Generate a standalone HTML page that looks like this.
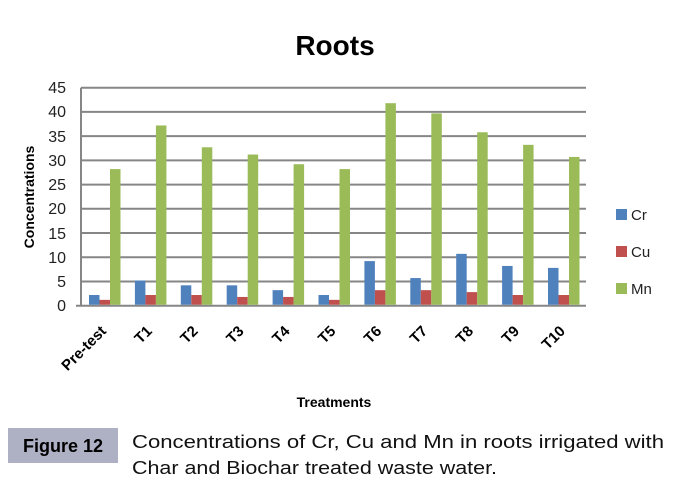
<!DOCTYPE html>
<html><head><meta charset="utf-8"><style>
html,body{margin:0;padding:0;background:#fff;width:682px;height:496px;overflow:hidden}
svg text{font-family:"Liberation Sans",sans-serif}
</style></head><body>
<svg width="682" height="496" viewBox="0 0 682 496" xmlns="http://www.w3.org/2000/svg">
<text x="335" y="55" font-size="28" font-weight="bold" text-anchor="middle">Roots</text>
<g stroke="#868686" stroke-width="2">
<line x1="81" x2="586" y1="87.7" y2="87.7"/>
<line x1="81" x2="586" y1="111.9" y2="111.9"/>
<line x1="81" x2="586" y1="136.1" y2="136.1"/>
<line x1="81" x2="586" y1="160.4" y2="160.4"/>
<line x1="81" x2="586" y1="184.6" y2="184.6"/>
<line x1="81" x2="586" y1="208.8" y2="208.8"/>
<line x1="81" x2="586" y1="233.0" y2="233.0"/>
<line x1="81" x2="586" y1="257.3" y2="257.3"/>
<line x1="81" x2="586" y1="281.5" y2="281.5"/>
<line x1="76" x2="586" y1="305.7" y2="305.7"/>
<line x1="81" x2="81" y1="87.7" y2="305.7"/>
</g>
<g font-size="16" text-anchor="end" fill="#222">
<text x="66" y="93">45</text><text x="66" y="117">40</text><text x="66" y="142">35</text>
<text x="66" y="166">30</text><text x="66" y="190">25</text><text x="66" y="214">20</text>
<text x="66" y="239">15</text><text x="66" y="263">10</text><text x="66" y="287">5</text>
<text x="66" y="311">0</text>
</g>
<text transform="translate(34,197) rotate(-90)" font-size="14" font-weight="bold" text-anchor="middle">Concentrations</text>
<g id="bars"></g>
<g font-size="15" font-weight="bold" text-anchor="end" id="xl"></g>
<text x="334" y="407" font-size="14" font-weight="bold" text-anchor="middle">Treatments</text>
<rect x="616" y="209" width="11" height="11" fill="#4f81bd"/>
<rect x="616" y="246" width="11" height="11" fill="#c0504d"/>
<rect x="616" y="283" width="11" height="11" fill="#9bbb59"/>
<g font-size="15" fill="#222">
<text x="631" y="220">Cr</text><text x="631" y="257">Cu</text><text x="631" y="294">Mn</text>
</g>
<rect x="8" y="428" width="110" height="35" fill="#aeb0c4"/>
<text x="63" y="452" font-size="18" font-weight="bold" text-anchor="middle">Figure 12</text>
<g font-size="18.5" fill="#111">
<text x="132" y="448" textLength="532" lengthAdjust="spacingAndGlyphs">Concentrations of Cr, Cu and Mn in roots irrigated with</text>
<text x="132" y="474" textLength="365" lengthAdjust="spacingAndGlyphs">Char and Biochar treated waste water.</text>
</g>
</svg>
<script>
var d=[["Pre-test",2,1,28],["T1",5,2,37],["T2",4,2,32.5],["T3",4,1.6,31],["T4",3,1.6,29],["T5",2,1,28],["T6",9,3,41.6],["T7",5.5,3,39.5],["T8",10.5,2.6,35.6],["T9",8,2,33],["T10",7.6,2,30.5]];
var c=["#4f81bd","#c0504d","#9bbb59"],ns="http://www.w3.org/2000/svg",b=document.getElementById("bars"),xl=document.getElementById("xl");
d.forEach(function(r,i){var x0=81+45.9*i;for(var k=0;k<3;k++){var h=r[k+1]*4.844,e=document.createElementNS(ns,"rect");e.setAttribute("x",x0+8+10.5*k);e.setAttribute("width",10.5);e.setAttribute("y",304.7-h);e.setAttribute("height",h);e.setAttribute("fill",c[k]);b.appendChild(e);}
var t=document.createElementNS(ns,"text");var cx=x0+23+3,cy=332;t.setAttribute("transform","translate("+cx+","+cy+") rotate(-45)");t.textContent=r[0];xl.appendChild(t);});
</script>
</body></html>
